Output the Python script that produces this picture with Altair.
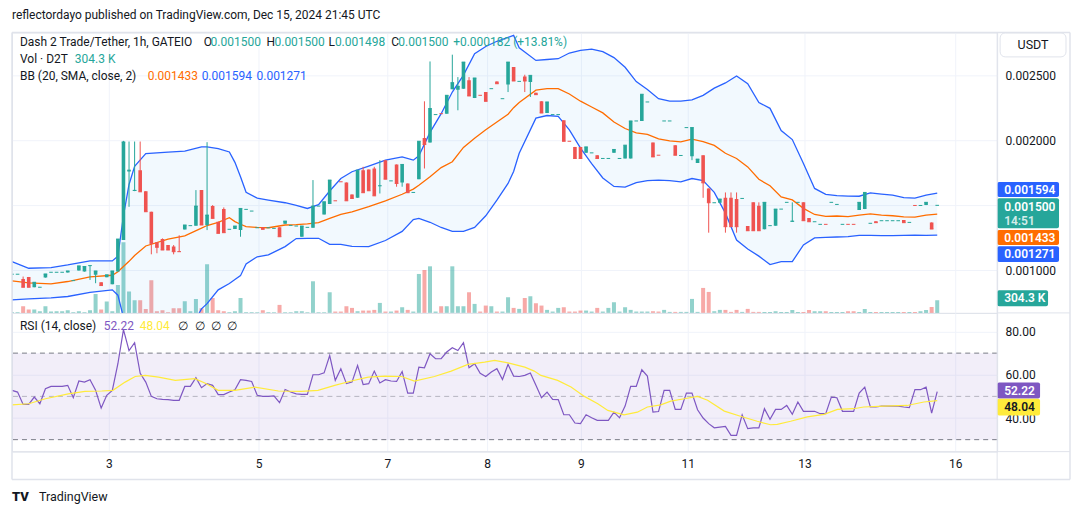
import altair as alt
import pandas as pd

# ---------------- data (prices in 1e-6 USDT, volume in thousands) ----------------
TITLE = "reflectordayo published on TradingView.com, Dec 15, 2024 21:45 UTC"

OPEN = [971,971,935,950,871,871,945,986,986,986,
        984,922,999,991,1035,966,909,948,894,991,
        1234,1760,1610,1770,1609,1451,1216,1241,1195,1183,
        1147,1315,1344,1344,1617,1349,1494,1374,1471,1316,
        1318,1310,1469,1456,1328,1331,1328,1323,1331,1359,
        1346,1341,1259,1331,1328,1494,1430,1510,1535,1681,
        1676,1584,1558,1770,1775,1783,1648,1847,1688,1814,
        1676,1668,1599,1701,2018,1982,2197,2204,2204,2391,
        2388,2396,2460,2324,2345,2370,2396,2452,2319,2429,
        2562,2452,2490,2447,2365,2299,2209,2197,2197,2153,
        1992,1949,1949,1903,1903,1885,1860,1860,1903,1860,
        1860,1860,2148,2148,2294,1982,1885,2148,2148,1962,
        1883,2097,1877,1826,1885,1630,1520,1520,1558,1558,
        1548,1553,1341,1523,1497,1316,1344,1344,1471,1523,
        1374,1523,1523,1402,1374,1354,1354,1523,1507,1354,
        1354,1354,1464,1471,1362,1377,1382,1382,1382,1382,
        1387,1369,1499,1499,1502,1369,1500]
HIGH = [971,971,953,950,909,871,973,986,986,986,
        996,922,1035,1030,1037,996,909,966,996,1241,
        1995,1990,1990,1990,1609,1451,1216,1246,1195,1195,
        1270,1349,1344,1617,1617,1985,1502,1374,1484,1316,
        1341,1476,1469,1456,1328,1331,1328,1323,1331,1379,
        1346,1341,1341,1331,1694,1494,1527,1694,1535,1681,
        1676,1584,1770,1796,1775,1796,1847,1847,1688,1814,
        1814,1668,1599,1992,2299,2605,2197,2204,2345,2657,
        2485,2600,2485,2478,2345,2370,2396,2452,2319,2600,
        2562,2452,2503,2498,2365,2299,2294,2197,2197,2153,
        1992,1949,1949,1949,1903,1885,1860,1860,1929,1860,
        1962,2148,2148,2353,2294,1982,1885,2148,2148,1962,
        1883,2097,2097,1855,1885,1630,1520,1548,1599,1599,
        1599,1553,1341,1523,1523,1523,1344,1471,1471,1523,
        1523,1523,1523,1402,1374,1354,1354,1523,1507,1354,
        1354,1354,1523,1599,1362,1377,1382,1382,1382,1382,
        1387,1369,1499,1499,1523,1369,1500]
LOW = [971,971,871,871,871,871,945,986,986,986,
       984,922,999,991,927,902,884,948,894,991,
       1234,1489,1609,1604,1451,1124,1132,1157,1157,1124,
       1144,1315,1344,1344,1349,1310,1400,1285,1290,1316,
       1318,1259,1469,1456,1328,1316,1328,1323,1259,1359,
       1346,1341,1259,1331,1328,1494,1430,1510,1535,1681,
       1535,1553,1558,1597,1612,1573,1591,1701,1688,1643,
       1643,1597,1599,1701,1783,1982,2197,2204,2204,2391,
       2230,2396,2340,2324,2345,2299,2396,2434,2319,2370,
       2455,2452,2370,2332,2350,2209,2209,2197,2197,1992,
       1992,1860,1860,1903,1903,1860,1860,1860,1903,1860,
       1860,1860,2148,2148,2294,1872,1885,2148,2148,1885,
       1883,2097,1847,1826,1558,1290,1520,1520,1290,1336,
       1290,1553,1305,1305,1305,1316,1344,1344,1471,1523,
       1374,1523,1382,1374,1374,1354,1354,1523,1507,1354,
       1354,1354,1464,1471,1362,1367,1382,1382,1382,1382,
       1367,1369,1499,1499,1502,1318,1498]
CLOSE = [971,971,871,871,909,871,973,986,986,986,
         996,922,1035,1030,1037,996,884,966,996,1241,
         1987,1770,1615,1604,1451,1208,1178,1157,1157,1144,
         1144,1349,1344,1494,1349,1425,1400,1285,1290,1316,
         1341,1476,1469,1456,1328,1316,1328,1323,1259,1379,
         1346,1341,1341,1331,1494,1494,1527,1694,1535,1681,
         1535,1553,1770,1597,1612,1573,1650,1701,1688,1668,
         1814,1597,1599,1992,1967,2243,2197,2204,2345,2442,
         2414,2600,2340,2478,2345,2299,2396,2434,2319,2600,
         2455,2452,2455,2498,2350,2209,2294,2197,2197,1992,
         1992,1860,1860,1949,1903,1860,1860,1860,1929,1860,
         1962,2148,2148,2353,2294,1872,1885,2148,2148,1885,
         1883,2097,2097,1855,1673,1520,1520,1548,1336,1336,
         1336,1553,1305,1305,1305,1523,1344,1471,1471,1523,
         1379,1523,1382,1374,1374,1354,1354,1523,1507,1354,
         1354,1354,1523,1599,1362,1367,1382,1382,1382,1382,
         1367,1369,1499,1499,1523,1318,1500]
VOLUME_K = [16,16,160,80,80,40,160,32,40,40,
            64,16,40,16,64,456,80,272,40,672,
            1696,512,304,304,96,784,40,64,16,112,
            112,280,40,336,112,1168,360,64,40,16,
            40,360,16,16,16,64,16,16,192,16,
            16,40,40,16,760,16,16,496,32,32,
            160,120,40,56,56,72,240,32,32,56,
            136,72,32,936,1032,1120,32,160,160,1120,
            160,160,496,216,32,176,160,32,32,376,
            120,96,360,400,232,176,72,32,120,136,
            32,32,56,56,32,120,32,120,256,32,
            136,72,32,32,32,40,32,72,24,24,
            24,24,336,24,600,504,40,72,72,24,
            72,24,96,24,24,24,24,40,24,24,
            72,24,24,72,40,40,40,24,24,24,
            40,40,24,96,24,24,24,24,24,24,
            24,24,24,40,72,144,304.3]
RED_DOJI = [58, 59, 77, 84, 100, 116, 146, 150, 151, 162]

BB_IDX = [0,3,7,10,14,18,19,20,21,22,
          24,28,31,34,35,37,39,40,41,42,
          44,46,49,51,53,55,57,59,61,64,
          67,70,72,73,75,77,79,81,83,85,
          87,89,90,91,94,96,98,100,102,104,
          106,108,110,112,114,116,118,120,122,124,
          126,128,130,132,134,136,138,140,142,144,
          146,148,150,152,154,156,158,160,162,164,166]
BB_UPPER = [1068,1017,1022,1042,1073,1073,1110,1420,1660,1800,
            1898,1908,1916,1949,1949,1935,1910,1830,1720,1600,
            1555,1540,1520,1500,1476,1505,1610,1706,1758,1801,
            1847,1872,1847,1880,2060,2204,2370,2500,2664,2720,
            2760,2790,2805,2710,2613,2620,2626,2670,2690,2700,
            2680,2635,2560,2450,2390,2319,2301,2301,2310,2345,
            2400,2440,2493,2434,2290,2245,2075,2005,1821,1630,
            1585,1575,1571,1570,1595,1586,1578,1560,1555,1578,1594]
BB_BASIS = [920,905,897,915,951,963,990,1030,1070,1115,
            1188,1240,1265,1325,1345,1370,1405,1375,1355,1336,
            1330,1328,1349,1352,1358,1367,1400,1431,1450,1490,
            1535,1585,1625,1655,1720,1790,1835,1945,2015,2080,
            2140,2200,2250,2290,2385,2396,2396,2355,2300,2255,
            2210,2140,2090,2056,2045,2010,1995,1988,2008,1990,
            1960,1900,1860,1795,1700,1650,1565,1542,1477,1430,
            1415,1418,1413,1425,1435,1425,1420,1412,1410,1425,1433]
BB_LOWER = [774,782,790,800,832,851,810,640,520,450,
            420,400,470,705,745,851,900,930,960,1050,
            1105,1119,1183,1245,1247,1247,1200,1200,1185,1183,
            1230,1300,1390,1400,1370,1330,1300,1300,1330,1420,
            1540,1668,1760,1900,2170,2190,2184,2080,1940,1820,
            1710,1645,1640,1675,1690,1694,1690,1681,1706,1690,
            1600,1440,1234,1165,1110,1045,1068,1068,1196,1250,
            1254,1257,1259,1270,1270,1267,1267,1269,1272,1270,1271]

RSI = [52.8,52.0,46.3,46.3,49.7,46.6,53.5,54.6,54.6,54.6,
       55.1,49.4,57.1,56.6,57.7,52.8,44.6,50.5,52.8,65.1,
       80.9,71.2,74.8,60.7,56.6,50.0,48.9,48.6,48.5,48.2,
       48.2,54.6,54.6,58.6,54.0,55.9,55.1,50.8,50.8,52.0,
       53.1,57.7,57.4,56.9,50.5,50.0,50.0,50.2,47.1,53.2,
       52.0,51.2,50.9,50.9,60.0,60.0,60.9,68.9,57.4,62.8,
       55.9,56.6,64.3,55.5,55.9,61.7,56.2,57.7,57.1,56.9,
       61.5,51.5,51.5,63.5,63.2,69.7,67.4,67.4,70.5,72.5,
       71.2,74.8,63.2,65.1,60.7,59.2,61.3,62.8,57.8,64.8,
       59.4,59.2,59.7,60.8,55.1,49.4,52.0,48.6,48.5,41.5,
       41.5,37.7,37.4,41.5,40.1,38.9,38.9,38.9,42.7,40.1,
       45.5,54.6,54.6,62.3,59.4,42.7,43.0,52.8,52.8,44.0,
       44.0,51.5,51.5,43.8,40.0,37.4,35.5,35.8,36.1,32.0,
       32.0,41.5,35.1,35.4,35.4,44.3,39.4,44.0,44.0,45.8,
       41.7,47.4,43.1,43.1,43.1,42.0,42.0,49.7,49.4,43.1,
       43.1,43.1,51.5,54.3,45.1,45.1,45.5,45.5,45.5,45.5,
       45.1,44.8,53.1,53.1,54.3,42.3,52.22]
RSI_MA_IDX = [0,3,6,10.1,13.1,16.1,18.1,20.3,22.1,23.9,
              26.3,29.3,32.8,34.6,37,40,43.6,47.8,51.9,54.9,
              57.9,60.9,63.9,66.9,69.9,72.2,75.8,78.8,81.8,84.8,
              86.6,89,92,93.7,94.9,97.9,100.3,102.7,105.1,106.9,
              109.8,112.2,114,116.4,118.2,120.6,123,124.8,127.8,130.7,
              133.7,136.1,137.3,139.7,142.7,145.7,148.1,151,152.8,156.4,
              160.6,163.6,166]
RSI_MA = [46.1,46.6,48.9,51.2,52.3,52.5,52.8,56.6,59.2,59.7,
          58.9,57.4,58.2,56.2,52.8,52.8,54.3,52.5,52.3,52.8,
          55.1,57.1,58.9,59.4,59.2,57.1,59.2,61.7,64.8,65.8,
          66.6,65.5,63.5,61.7,59.7,57.4,54.3,50.0,46.6,43.5,
          41.5,42.7,45.1,46.1,47.8,48.9,50.0,48.2,43.2,40.8,
          38.5,36.9,37.1,38.5,40.5,41.7,44.0,44.3,45.1,45.5,
          45.8,47.4,48.04]

DAY_TICKS = [17.37, 44.23, 67.34, 85.24, 102.08, 121.24, 142.19, 169.23]
DAY_LABELS = ["3", "5", "7", "8", "9", "11", "13", "16"]
PRICE_TICKS = [0.001, 0.0015, 0.002, 0.0025]
RSI_TICKS = [40, 60, 80]
RSI_BAND = [70, 30]
RSI_MID = [50]

LAST_UPPER, LAST_CLOSE, LAST_BASIS, LAST_LOWER = 0.001594, 0.0015, 0.001433, 0.001271
LAST_VOL_K = 304.3
LAST_RSI, LAST_RSI_MA = 52.22, 48.04

# ---------------- style ----------------
FONT = "Roboto"
UP, DOWN = "#26a69a", "#ef5350"
BLUE, ORANGE, PURPLE, YELLOW = "#2962ff", "#ff6d00", "#7e57c2", "#ffeb3b"
DARK, GRID, FRAME = "#131722", "#f0f3fa", "#e0e3eb"
W, H_TOP, H_RSI = 987, 281, 139
X_DOMAIN = [0, 176.75]
P_DOMAIN = [0.000674, 0.002828]
V_DOMAIN = [0, 6744]
R_DOMAIN = [24.46, 88.6]
U = 1e-6

n = len(OPEN)
candles = pd.DataFrame({
    "i": list(range(n)),
    "o": [v * U for v in OPEN], "h": [v * U for v in HIGH],
    "l": [v * U for v in LOW], "c": [v * U for v in CLOSE],
    "v": VOLUME_K, "v0": [0] * n,
})
candles["dir"] = ["down" if (c < o or (c == o and i in RED_DOJI)) else "up"
                  for i, o, c in zip(range(n), OPEN, CLOSE)]
bb = pd.DataFrame({"i": BB_IDX, "up": [v * U for v in BB_UPPER],
                   "mid": [v * U for v in BB_BASIS], "low": [v * U for v in BB_LOWER]})
rsi = pd.DataFrame({"i": list(range(n)), "r": RSI})
rsi_ma = pd.DataFrame({"i": RSI_MA_IDX, "r": RSI_MA})
ONE = pd.DataFrame({"k": [0]})

xs = alt.Scale(domain=X_DOMAIN, nice=False, zero=False)
ps = alt.Scale(domain=P_DOMAIN, nice=False, zero=False)
vs = alt.Scale(domain=V_DOMAIN, nice=False, zero=False)
rs = alt.Scale(domain=R_DOMAIN, nice=False, zero=False)

x_expr = "".join(f"abs(datum.value - {t}) < 0.01 ? '{l}' : " for t, l in zip(DAY_TICKS, DAY_LABELS)) + "''"
ax_x_top = alt.Axis(values=DAY_TICKS, labels=False, ticks=False, domain=False, grid=True,
                    gridColor=GRID, title=None)
ax_x_bot = alt.Axis(values=DAY_TICKS, labelExpr=x_expr, ticks=False, domain=False, grid=True,
                    gridColor=GRID, title=None, labelPadding=7, labelFontSize=12,
                    labelColor=DARK, labelFont=FONT)
ax_p = alt.Axis(orient="right", values=PRICE_TICKS,
                labelExpr="abs(datum.value - 0.0015) < 1e-9 ? '' : format(datum.value, '.6f')",
                grid=True, gridColor=GRID, domain=False, ticks=False, labelPadding=8,
                labelFontSize=12, labelColor=DARK, labelFont=FONT, title=None)
ax_r = alt.Axis(orient="right", values=RSI_TICKS, format=".2f", grid=True, gridColor=GRID,
                domain=False, ticks=False, labelPadding=8, labelFontSize=12, labelColor=DARK,
                labelFont=FONT, title=None)

XT = alt.X("i:Q", scale=xs, axis=ax_x_top)
XB = alt.X("i:Q", scale=xs, axis=ax_x_bot)


def PY(f):
    return alt.Y(f, scale=ps, axis=ax_p)


def RY(f):
    return alt.Y(f, scale=rs, axis=ax_r)


dir_color = alt.Color("dir:N", scale=alt.Scale(domain=["up", "down"], range=[UP, DOWN]), legend=None)


def label(text, x, y, color=DARK, size=12, weight="normal", align="left"):
    return alt.Chart(ONE).mark_text(text=text, align=align, baseline="middle", color=color,
                                    fontSize=size, fontWeight=weight, font=FONT).encode(
        x=alt.value(x), y=alt.value(y))


def seg(x1, x2, y1, y2, color=FRAME, width=1.0):
    return alt.Chart(ONE).mark_rule(color=color, strokeWidth=width).encode(
        x=alt.value(x1), x2=alt.value(x2), y=alt.value(y1), y2=alt.value(y2))


def tag(value, text, scale, axis, fill, off1, off2, x1, x2, dy, tcolor="white"):
    d = pd.DataFrame({"val": [value], "txt": [text]})
    y = alt.Y("val:Q", scale=scale, axis=axis)
    box = alt.Chart(d).mark_rect(color=fill, yOffset=off1, y2Offset=off2, cornerRadius=2).encode(
        x=alt.value(x1), x2=alt.value(x2), y=y, y2="val:Q")
    txt = alt.Chart(d).mark_text(align="left", baseline="middle", dy=dy, color=tcolor,
                                 fontSize=12, fontWeight=600, font=FONT).encode(
        x=alt.value(x1 + 7), y=y, text="txt:N")
    return alt.layer(box, txt)


# ---------------- price pane ----------------
base = alt.Chart(candles)
volume = base.mark_rect(xOffset=-2, x2Offset=2, opacity=0.5, clip=True).encode(
    x=XT, x2=alt.X2("i"), y=alt.Y("v:Q", scale=vs, axis=None), y2="v0:Q", color=dir_color)
vol_tag = tag(LAST_VOL_K, f"{LAST_VOL_K} K", vs, None, UP, -10, 6, W, W + 51, -2)
vol_group = alt.layer(volume, vol_tag)

bb_area = alt.Chart(bb).mark_area(color="#2196f3", opacity=0.06, clip=True).encode(
    x=XT, y=PY("up:Q"), y2="low:Q")
bb_up = alt.Chart(bb).mark_line(color=BLUE, strokeWidth=1.3, clip=True).encode(x=XT, y=PY("up:Q"))
bb_mid = alt.Chart(bb).mark_line(color=ORANGE, strokeWidth=1.3, clip=True).encode(x=XT, y=PY("mid:Q"))
bb_low = alt.Chart(bb).mark_line(color=BLUE, strokeWidth=1.3, clip=True).encode(x=XT, y=PY("low:Q"))
wicks = base.mark_rule(strokeWidth=1, clip=True).encode(x=XT, y=PY("l:Q"), y2="h:Q", color=dir_color)
bodies = base.mark_rect(xOffset=-1.8, x2Offset=1.8, clip=True).encode(
    x=XT, x2=alt.X2("i"), y=PY("o:Q"), y2="c:Q", color=dir_color)
dashes = base.mark_rule(xOffset=-1.8, x2Offset=1.8, strokeWidth=1, clip=True).encode(
    x=XT, x2=alt.X2("i"), y=PY("c:Q"), color=dir_color)

tags = [
    tag(LAST_UPPER, f"{LAST_UPPER:.6f}", ps, ax_p, BLUE, -11, 4, W, W + 62, -3.5),
    tag(LAST_CLOSE, f"{LAST_CLOSE:.6f}", ps, ax_p, UP, -7, 23, W, W + 62, 1.5),
    tag(LAST_BASIS, f"{LAST_BASIS:.6f}", ps, ax_p, ORANGE, 16, 31, W, W + 62, 23.5),
    tag(LAST_LOWER, f"{LAST_LOWER:.6f}", ps, ax_p, BLUE, 11, 27, W, W + 62, 19),
]
countdown = alt.Chart(pd.DataFrame({"val": [LAST_CLOSE], "txt": ["14:51"]})).mark_text(
    align="left", baseline="middle", dy=15.5, color="white", opacity=0.8, fontSize=12,
    fontWeight=600, font=FONT).encode(x=alt.value(W + 7), y=PY("val:Q"), text="txt:N")

usdt_box = alt.Chart(ONE).mark_rect(fill="white", stroke=FRAME, strokeWidth=1, cornerRadius=5).encode(
    x=alt.value(W + 3), x2=alt.value(W + 69), y=alt.value(0.5), y2=alt.value(24.5))

L1, L2, L3 = 9.5, 26.5, 43.5
texts_top = [
    label(TITLE, 0, -17, size=12),
    label("Dash 2 Trade/Tether, 1h, GATEIO", 8, L1),
    label("O", 192, L1), label("0.001500", 199, L1, UP),
    label("H", 255, L1), label("0.001500", 263, L1, UP),
    label("L", 317, L1), label("0.001498", 323.5, L1, UP),
    label("C", 380, L1), label("0.001500", 387, L1, UP),
    label("+0.000182 (+13.81%)", 442, L1, UP),
    label("Vol · D2T", 8, L2), label("304.3 K", 63, L2, UP),
    label("BB (20, SMA, close, 2)", 8, L3),
    label("0.001433", 136, L3, ORANGE), label("0.001594", 190, L3, BLUE),
    label("0.001271", 245, L3, BLUE),
    label("USDT", W + 36, 12.5, size=12.5, align="center"),
]

price_group = alt.layer(bb_area, bb_up, bb_mid, bb_low, wicks, bodies, dashes,
                        *tags, countdown, usdt_box, *texts_top)
top = alt.layer(vol_group, price_group).resolve_scale(y="independent").properties(
    width=W, height=H_TOP)

# ---------------- RSI pane ----------------
band = alt.Chart(pd.DataFrame({"hi": [RSI_BAND[0]], "lo": [RSI_BAND[1]]})).mark_rect(
    color=PURPLE, opacity=0.1).encode(x=alt.value(0), x2=alt.value(W), y=RY("hi:Q"), y2="lo:Q")
band_lines = alt.Chart(pd.DataFrame({"lv": RSI_BAND})).mark_rule(
    color="#787b86", strokeDash=[5, 4], strokeWidth=1).encode(y=RY("lv:Q"))
mid_line = alt.Chart(pd.DataFrame({"lv": RSI_MID})).mark_rule(
    color="#787b86", strokeDash=[5, 4], strokeWidth=1, opacity=0.5).encode(y=RY("lv:Q"))
rsi_line = alt.Chart(rsi).mark_line(color=PURPLE, strokeWidth=1.2).encode(x=XB, y=RY("r:Q"))
ma_line = alt.Chart(rsi_ma).mark_line(color=YELLOW, strokeWidth=1.2).encode(x=XB, y=RY("r:Q"))
rsi_tags = [
    tag(LAST_RSI, f"{LAST_RSI:.2f}", rs, ax_r, PURPLE, -9, 7, W, W + 43, -0.8),
    tag(LAST_RSI_MA, f"{LAST_RSI_MA:.2f}", rs, ax_r, YELLOW, -2, 15, W, W + 43, 6.6, DARK),
]
texts_rsi = [
    label("RSI (14, close)", 8, 13),
    label(f"{LAST_RSI:.2f}", 92, 13, PURPLE),
    label(f"{LAST_RSI_MA:.2f}", 128, 13, YELLOW),
    label("∅", 166, 13), label("∅", 183, 13), label("∅", 199, 13), label("∅", 215, 13),
    label("TV", 0, 184, size=13, weight=900),
    label("TradingView", 27, 184, size=12.5),
]
frame = [
    seg(0, 1060, -281, -281, width=1.5), seg(0, 1060, 167, 167, width=1.5),
    seg(0, 0, -281, 167, width=1.5), seg(1060, 1060, -281, 167, width=1.5),
    seg(W, W, -281, 167), seg(W, 1060, 0, 0), seg(0, 1060, H_RSI, H_RSI),
]
rsi_chart = alt.layer(band, mid_line, band_lines, rsi_line, ma_line, *rsi_tags,
                      *texts_rsi, *frame).properties(width=W, height=H_RSI)

chart = alt.vconcat(top, rsi_chart, spacing=0, bounds="flush").properties(
    padding={"left": 1, "top": 0, "right": 0, "bottom": 0},
    background="white",
).configure(font=FONT).configure_view(stroke=FRAME, strokeWidth=1)

chart.save("out.html", embed_options={"renderer": "svg", "actions": False})
